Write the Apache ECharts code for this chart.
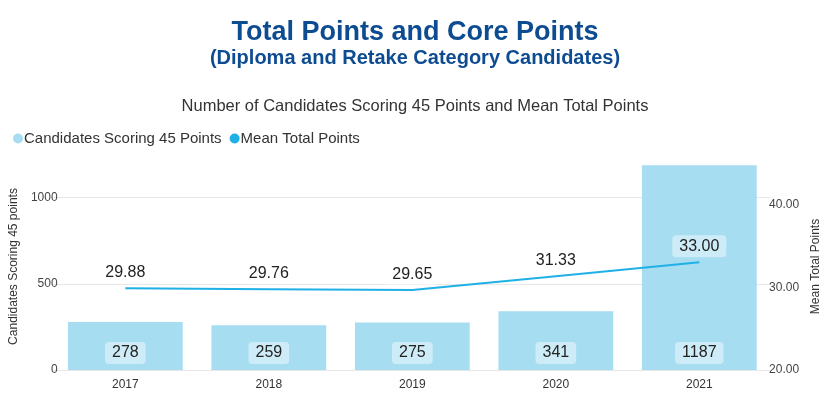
<!DOCTYPE html>
<html><head><meta charset="utf-8">
<script src="https://cdn.jsdelivr.net/npm/echarts@6/dist/echarts.min.js"></script>
<style>html,body{margin:0;padding:0;background:#fff}#c{width:830px;height:413px}</style>
</head><body><div id="c"></div>
<script>
const years = ['2017','2018','2019','2020','2021'];
const candidates45 = [278, 259, 275, 341, 1187];
const meanTotal = [29.88, 29.76, 29.65, 31.33, 33.00];
const leftTicks = [0, 500, 1000];
const rightTicks = [20, 30, 40];

const chart = echarts.init(document.getElementById('c'));
const FF = '"Liberation Sans", Arial, sans-serif';
chart.setOption({
  backgroundColor: '#fff',
  textStyle: { fontFamily: FF },
  title: [
    { text: 'Total Points and Core Points', left: 'center', top: 14,
      textStyle: { fontSize: 27, fontWeight: 'bold', color: '#0e4c92', fontFamily: FF } },
    { text: '(Diploma and Retake Category Candidates)', left: 'center', top: 43,
      textStyle: { fontSize: 20, fontWeight: 'bold', color: '#0e4c92', fontFamily: FF } },
    { text: 'Number of Candidates Scoring 45 Points and Mean Total Points', left: 'center', top: 93,
      textStyle: { fontSize: 16.5, fontWeight: 'normal', color: '#333', fontFamily: FF } }
  ],
  legend: {
    left: 8, top: 126, icon: 'circle', itemWidth: 10, itemHeight: 10, itemGap: 8,
    textStyle: { fontSize: 15, color: '#333', padding: [0, 0, 0, -4] },
    data: ['Candidates Scoring 45 Points', 'Mean Total Points']
  },
  grid: { left: 50, right: 56, top: 163, bottom: 43 },
  xAxis: {
    type: 'category', data: years,
    axisLine: { show: true, lineStyle: { color: '#e6e6e6' } },
    axisTick: { show: false },
    axisLabel: { color: '#333', fontSize: 12, margin: 9 }
  },
  yAxis: [
    { type: 'value', min: 0, max: 1200, interval: 500,
      name: 'Candidates Scoring 45 points', nameLocation: 'middle', nameGap: 31, nameRotate: 90,
      nameTextStyle: { fontSize: 12, color: '#333' },
      axisLabel: { color: '#444', fontSize: 12, margin: -4, showMaxLabel: false,
        formatter: v => leftTicks.includes(v) ? String(v) : '' },
      axisLine: { show: false }, axisTick: { show: false },
      splitLine: { show: true, showMaxLine: false, lineStyle: { color: '#e6e6e6' } } },
    { type: 'value', min: 20, max: 45, interval: 10,
      name: 'Mean Total Points', nameLocation: 'middle', nameGap: 37, nameRotate: 90,
      nameTextStyle: { fontSize: 12, color: '#333' },
      axisLabel: { color: '#444', fontSize: 12, margin: -2, showMaxLabel: false,
        formatter: v => rightTicks.includes(v) ? v.toFixed(2) : '' },
      axisLine: { show: false }, axisTick: { show: false }, splitLine: { show: false } }
  ],
  series: [
    { name: 'Candidates Scoring 45 Points', type: 'bar', data: candidates45,
      barCategoryGap: '20%',
      itemStyle: { color: '#a6ddf0' },
      label: { show: true, position: 'insideBottom', distance: 6, fontSize: 16, color: '#222',
        backgroundColor: 'rgba(255,255,255,0.45)', borderRadius: 4, padding: [3, 7] } },
    { name: 'Mean Total Points', type: 'line', yAxisIndex: 1, data: meanTotal,
      symbol: 'circle', symbolSize: 0, showSymbol: true,
      lineStyle: { color: '#1fb0e6', width: 2 }, itemStyle: { color: '#1fb0e6' },
      label: { show: true, position: 'top', distance: 5, fontSize: 16, color: '#222',
        formatter: p => p.value.toFixed(2),
        backgroundColor: 'rgba(255,255,255,0.45)', borderRadius: 4, padding: [3, 7] } }
  ]
});
</script></body></html>
